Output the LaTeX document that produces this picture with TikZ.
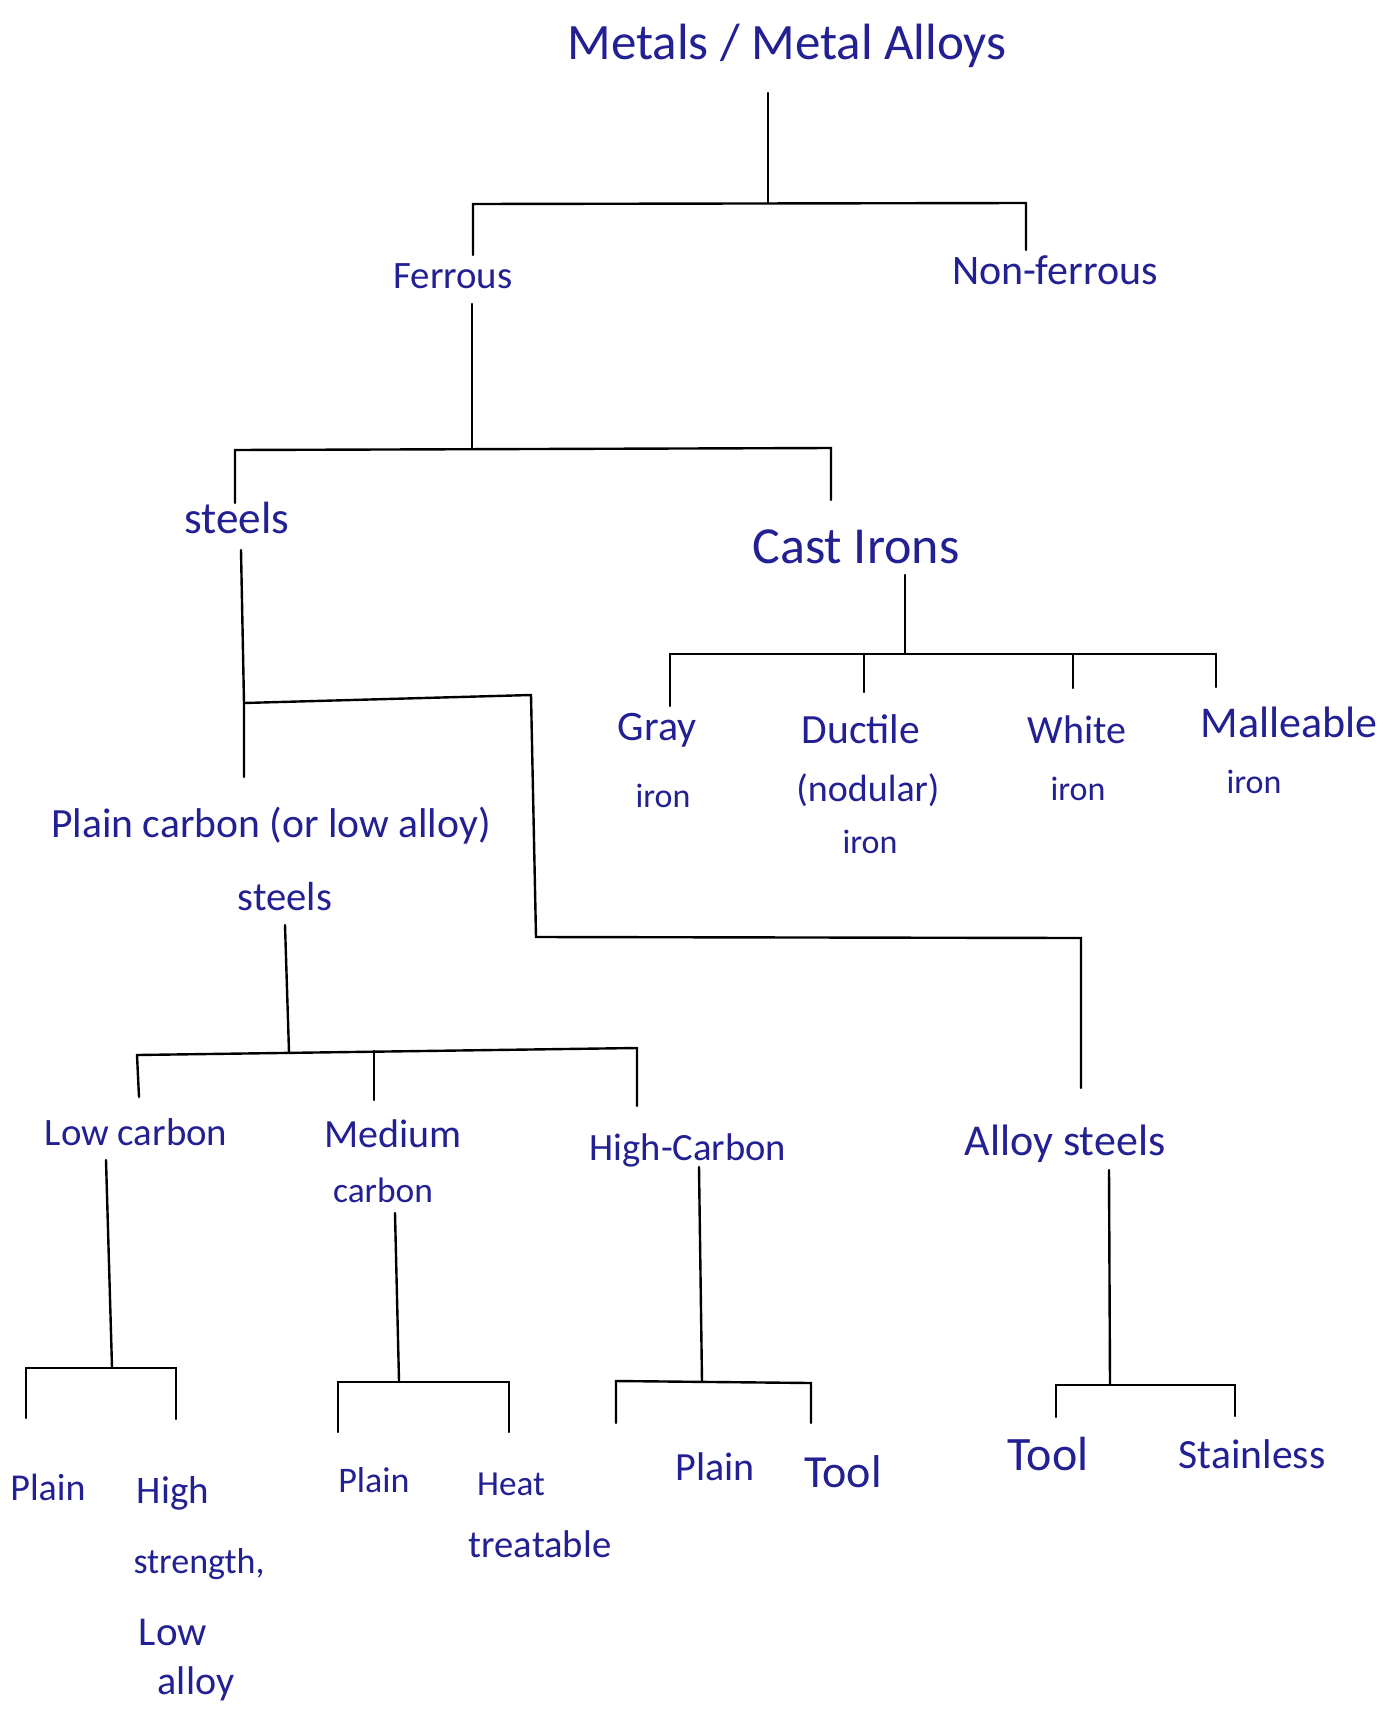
\documentclass[tikz,border=0pt]{standalone}
\usepackage{fontspec}
\setmainfont{Carlito}
\definecolor{ink}{RGB}{34,32,146}
\begin{document}
\begin{tikzpicture}[x=0.5pt,y=-0.5pt,
  lbl/.style={text=ink,inner sep=0pt,anchor=base,font=\fontsize{#1pt}{#1pt}\selectfont},
  lbl/.default=20,
  branch/.style={draw=black,line width=1.2pt,line cap=round,line join=miter}]
\useasboundingbox[fill=white] (0,0) rectangle (1389,1723);

% ---------- labels ----------
\node[lbl=25.5] (metals)   at (787,60)   {Metals / Metal Alloys};
\node[lbl=19.4] (ferrous)  at (453,288)  {Ferrous};
\node[lbl=21]   (nonfer)   at (1055,284) {Non-ferrous};
\node[lbl=22.6] (steels)   at (237,533)  {steels};
\node[lbl=26]   (cast)     at (856,563)  {Cast Irons};

\node[lbl=21]   (gray)     at (657,740)  {Gray};
\node[lbl=17]   (grayb)    at (663,807)  {iron};
\node[lbl=20.8] (ductile)  at (861,743)  {Ductile};
\node[lbl=19]   (nodular)  at (868,801)  {(nodular)};
\node[lbl=17]   (ductb)    at (870,853)  {iron};
\node[lbl=20]   (white)    at (1077,743) {White};
\node[lbl=17]   (whiteb)   at (1078,800) {iron};
\node[lbl=22]   (mall)     at (1289,737) {Malleable};
\node[lbl=17]   (mallb)    at (1254,793) {iron};

\node[lbl=20.8] (plainc)   at (271,837)  {Plain carbon (or low alloy)};
\node[lbl=20.3] (plaincb)  at (285,910)  {steels};

\node[lbl=19.4] (lowc)     at (136,1145) {Low carbon};
\node[lbl=20]   (medc)     at (393,1147) {Medium};
\node[lbl=17.7] (medcb)    at (383,1202) {carbon};
\node[lbl=19.3] (highc)    at (688,1160) {High-Carbon};
\node[lbl=22]   (alloys)   at (1065,1155){Alloy steels};

\node[lbl=19]   (lcplain)  at (48,1500)  {Plain};
\node[lbl=19.5] (lchsla)   at (173,1503) {High};
\node[lbl=18]   (lchslb)   at (199,1573) {strength,};
\node[lbl=20.5] (lchslc)   at (173,1645) {Low};
\node[lbl=20]   (lchsld)   at (196,1694) {alloy};

\node[lbl=18]   (mcplain)  at (374,1492) {Plain};
\node[lbl=17.6] (mcheat)   at (511,1495) {Heat};
\node[lbl=19.3] (mcheatb)  at (540,1557) {treatable};

\node[lbl=20]   (hcplain)  at (715,1480) {Plain};
\node[lbl=23]   (hctool)   at (843,1487) {Tool};

\node[lbl=24]   (astool)   at (1048,1470){Tool};
\node[lbl=20.8] (asstain)  at (1252,1468){Stainless};

% ---------- junction points ----------
\coordinate (m0) at (768,93);   \coordinate (m1) at (768,203);
\coordinate (mL) at (473,204);  \coordinate (mR) at (1026,203);
\coordinate (mLd) at (473,255); \coordinate (mRd) at (1026,250);

\coordinate (f0) at (472,304);  \coordinate (f1) at (472,449);
\coordinate (fL) at (235,450);  \coordinate (fR) at (831,448);
\coordinate (fLd) at (235,503); \coordinate (fRd) at (831,500);

\coordinate (s0) at (241,550);  \coordinate (sJ) at (244,703);
\coordinate (s1) at (244,777);
\coordinate (sA) at (531,695);  \coordinate (sB) at (536,937);
\coordinate (sC) at (1081,938); \coordinate (sD) at (1081,1088);

\coordinate (c0) at (905,575);  \coordinate (c1) at (905,654);
\coordinate (cL) at (670,654);  \coordinate (cR) at (1216,654);
\coordinate (c2) at (864,654);  \coordinate (c3) at (1073,654);
\coordinate (cLd) at (670,706); \coordinate (c2d) at (864,692);
\coordinate (c3d) at (1073,688);\coordinate (cRd) at (1216,687);

\coordinate (p0) at (285,925);  \coordinate (p1) at (289,1052);
\coordinate (pL) at (137,1055); \coordinate (pR) at (637,1048);
\coordinate (pM) at (374,1051);
\coordinate (pLd) at (139,1097);\coordinate (pMd) at (374,1100);
\coordinate (pRd) at (637,1106);

\coordinate (l0) at (106,1160); \coordinate (l1) at (112,1367);
\coordinate (lL) at (26,1368);  \coordinate (lR) at (176,1368);
\coordinate (lLd) at (26,1418); \coordinate (lRd) at (176,1419);

\coordinate (d0) at (395,1213); \coordinate (d1) at (399,1381);
\coordinate (dL) at (338,1382); \coordinate (dR) at (509,1382);
\coordinate (dLd) at (338,1432);\coordinate (dRd) at (509,1432);

\coordinate (h0) at (699,1167); \coordinate (h1) at (702,1382);
\coordinate (hL) at (616,1381); \coordinate (hR) at (811,1383);
\coordinate (hLd) at (616,1423);\coordinate (hRd) at (811,1423);

\coordinate (a0) at (1109,1170);\coordinate (a1) at (1110,1385);
\coordinate (aL) at (1056,1385);\coordinate (aR) at (1235,1385);
\coordinate (aLd) at (1056,1417);\coordinate (aRd) at (1235,1416);

% ---------- branches ----------
\draw[branch] (m0) -- (m1);
\draw[branch] (mLd) -- (mL) -- (mR) -- (mRd);

\draw[branch] (f0) -- (f1);
\draw[branch] (fLd) -- (fL) -- (fR) -- (fRd);

\draw[branch] (s0) -- (sJ) -- (s1);
\draw[branch] (sJ) -- (sA) -- (sB) -- (sC) -- (sD);

\draw[branch] (c0) -- (c1);
\draw[branch] (cLd) -- (cL) -- (cR) -- (cRd);
\draw[branch] (c2) -- (c2d);
\draw[branch] (c3) -- (c3d);

\draw[branch] (p0) -- (p1);
\draw[branch] (pLd) -- (pL) -- (pR) -- (pRd);
\draw[branch] (pM) -- (pMd);

\draw[branch] (l0) -- (l1);
\draw[branch] (lLd) -- (lL) -- (lR) -- (lRd);

\draw[branch] (d0) -- (d1);
\draw[branch] (dLd) -- (dL) -- (dR) -- (dRd);

\draw[branch] (h0) -- (h1);
\draw[branch] (hLd) -- (hL) -- (hR) -- (hRd);

\draw[branch] (a0) -- (a1);
\draw[branch] (aLd) -- (aL) -- (aR) -- (aRd);
\end{tikzpicture}
\end{document}
